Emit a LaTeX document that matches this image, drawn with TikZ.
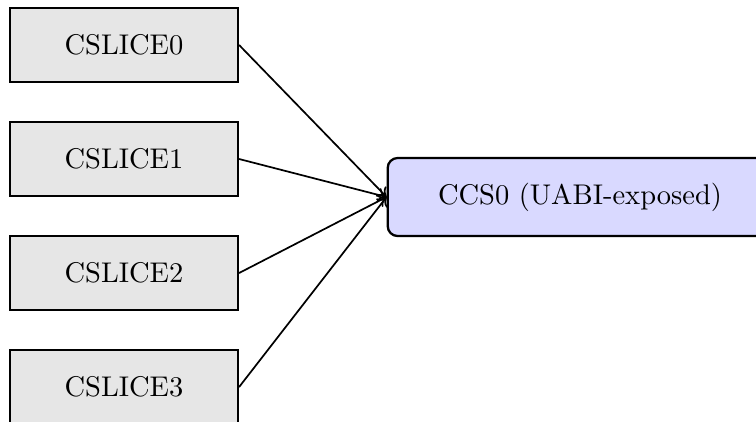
\documentclass[tikz,border=0pt]{standalone}
\usetikzlibrary{arrows.meta}
\definecolor{slicegray}{HTML}{E6E6E6}
\definecolor{ccsblue}{HTML}{D9D9FF}
\begin{document}
\begin{tikzpicture}[x=0.351pt,y=-0.351pt,
  slicebox/.style={draw, line width=0.8pt, fill=slicegray, minimum width=80pt, minimum height=26pt, inner sep=0pt, font=\normalsize},
  ccsbox/.style={draw, line width=0.8pt, fill=ccsblue, rounded corners=3.5pt, minimum width=135pt, minimum height=27.4pt, inner sep=0pt},
  link/.style={-{To[length=3pt,width=5pt]}, line width=0.6pt}]
\useasboundingbox (0,0) rectangle (756,421);
\clip (0,0) rectangle (756,421);
\node[slicebox] (s0) at (124,45) {CSLICE0};
\node[slicebox] (s1) at (124,159) {CSLICE1};
\node[slicebox] (s2) at (124,273) {CSLICE2};
\node[slicebox] (s3) at (124,387) {CSLICE3};
\node[ccsbox] (ccs) at (580,197) {CCS0 (UABI-exposed)};
\foreach \s in {s0,s1,s2,s3} \draw[link] (\s.east) -- (ccs.west);
\end{tikzpicture}
\end{document}
